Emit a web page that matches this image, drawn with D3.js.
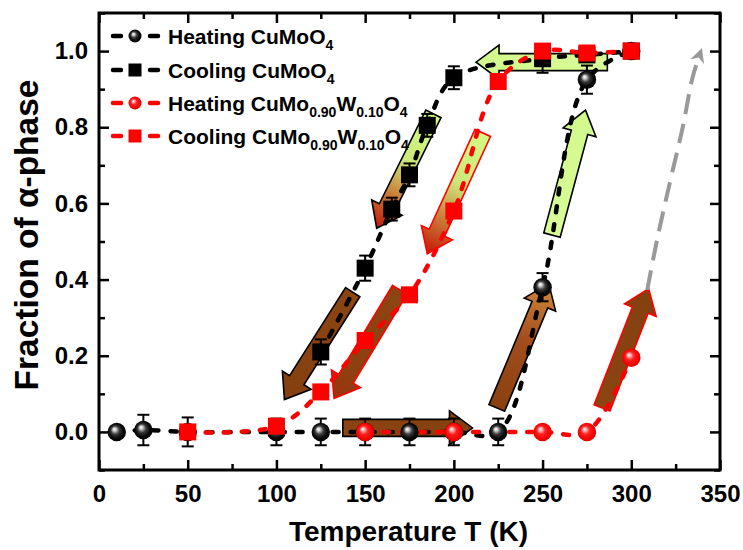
<!DOCTYPE html>
<html>
<head>
<meta charset="utf-8">
<script src="https://cdn.jsdelivr.net/npm/d3@7"></script>
<style>
  body { margin: 0; background: #fff; }
  text { font-family: "Liberation Sans", Arial, sans-serif; font-weight: bold; }
</style>
</head>
<body>
<svg id="chart" width="743" height="550"></svg>
<script>
// --- data ---
const heatMoT   = [10, 25, 50, 100, 125, 150, 175, 200, 225, 250, 275, 300];
const heatMoF   = [0, 0.005, 0, 0, 0, 0, 0, 0, 0, 0.38, 0.925, 1.0];
const heatMoErr = [0, 0.04, 0.038, 0.035, 0.035, 0.035, 0.035, 0.035, 0.035, 0.037, 0.037, 0];

const coolMoT   = [125, 150, 165, 175, 185, 200, 250, 275, 300];
const coolMoF   = [0.21, 0.43, 0.585, 0.675, 0.805, 0.93, 0.98, 0.99, 1.0];
const coolMoErr = [0.033, 0.033, 0.03, 0.03, 0.03, 0.03, 0.037, 0, 0];

const heatWT = [150, 200, 250, 275, 300];
const heatWF = [0, 0, 0, 0, 0.195];

const coolWT = [50, 100, 125, 150, 175, 200, 225, 250, 275, 300];
const coolWF = [0, 0.015, 0.105, 0.24, 0.36, 0.58, 0.92, 1.0, 0.995, 1.0];

// extrapolation guide (grey dashed) in data units
const guideT = [309, 314.5, 322, 329, 334.5, 338.5];
const guideF = [0.373, 0.504, 0.66, 0.8, 0.93, 0.99];

// block arrows: [T start, F start, T tip, F tip]
const arrowEnds = [
  [137.4, 0.0105, 210.5, 0.0105],   // heating CuMoO4, flat part
  [224.2, 0.063, 253.5, 0.39],      // heating CuMoO4, rise
  [255.3, 0.517, 274.2, 0.845],     // heating CuMoO4, top of rise
  [286.5, 0.971, 212.5, 0.971],     // cooling, flat top
  [188.5, 0.835, 156.5, 0.535],     // cooling CuMoO4, upper
  [143.0, 0.367, 104.5, 0.085],     // cooling CuMoO4, lower
  [216.3, 0.785, 185.0, 0.468],     // cooling W, upper
  [169.5, 0.373, 132.5, 0.088],     // cooling W, lower
  [283.5, 0.063, 309.8, 0.376]      // heating W
];
const arrowFill   = ["brown", "brownOrange", "green", "green", "greenRed", "brown", "greenRed", "brownRed", "brown"];
const arrowStroke = ["#000", "#000", "#000", "#000", "#000", "#000", "#f00", "#f00", "#f00"];

const xTicks = [0, 50, 100, 150, 200, 250, 300, 350];
const xMinor = [25, 75, 125, 175, 225, 275, 325];
const yTicks = [0, 0.2, 0.4, 0.6, 0.8, 1.0];
const yMinor = [-0.1, 0.1, 0.3, 0.5, 0.7, 0.9, 1.1];

// --- layout ---
const plotLeft = 99, plotRight = 720, plotTop = 13, plotBottom = 470;
const svg = d3.select("#chart");

const x = d3.scaleLinear().domain([0, 350]).range([plotLeft, plotRight]);
const y = d3.scaleLinear().domain([-0.1, 1.1]).range([plotBottom, plotTop]);

const defs = svg.append("defs");

// sphere gradients
function sphereGrad(id, stops) {
  const g = defs.append("radialGradient").attr("id", id)
    .attr("cx", "50%").attr("cy", "50%").attr("r", "55%")
    .attr("fx", "36%").attr("fy", "34%");
  stops.forEach(s => g.append("stop").attr("offset", s[0]).attr("stop-color", s[1]));
}
sphereGrad("ballBlack", [[0, "#ffffff"], [0.14, "#d8d8d8"], [0.42, "#3a3a3a"], [0.7, "#0a0a0a"], [1, "#000"]]);
sphereGrad("ballRed", [[0, "#ffffff"], [0.15, "#ffb8b8"], [0.42, "#ff2020"], [0.8, "#f00000"], [1, "#e00000"]]);

const arrowStops = {
  brown:       [[0, "#8a4512"], [1, "#854010"]],
  brownOrange: [[0, "#8a4010"], [0.55, "#a24d1c"], [1, "#d38a3a"]],
  green:       [[0, "#d8fb98"], [1, "#d2f98c"]],
  greenRed:    [[0, "#d2fb84"], [0.42, "#cde77a"], [0.7, "#c8823a"], [1, "#c41808"]],
  brownRed:    [[0, "#8c4512"], [0.7, "#8e4010"], [1, "#9c3410"]]
};

// --- block arrows (under the data) ---
const bodyHalf = 8.5, headHalf = 17, headLen = 23;
const arrowG = svg.append("g");
arrowEnds.forEach((a, i) => {
  const sx = x(a[0]), sy = y(a[1]), ex = x(a[2]), ey = y(a[3]);
  const len = Math.hypot(ex - sx, ey - sy);
  const ux = (ex - sx) / len, uy = (ey - sy) / len;
  const nx = -uy, ny = ux;
  const bx = ex - ux * headLen, by = ey - uy * headLen;
  const pts = [
    [sx + nx * bodyHalf, sy + ny * bodyHalf],
    [bx + nx * bodyHalf, by + ny * bodyHalf],
    [bx + nx * headHalf, by + ny * headHalf],
    [ex, ey],
    [bx - nx * headHalf, by - ny * headHalf],
    [bx - nx * bodyHalf, by - ny * bodyHalf],
    [sx - nx * bodyHalf, sy - ny * bodyHalf]
  ];
  const gid = "arrowGrad" + i;
  const lg = defs.append("linearGradient").attr("id", gid)
    .attr("gradientUnits", "userSpaceOnUse")
    .attr("x1", sx).attr("y1", sy).attr("x2", ex).attr("y2", ey);
  arrowStops[arrowFill[i]].forEach(s => lg.append("stop").attr("offset", s[0]).attr("stop-color", s[1]));
  arrowG.append("polygon")
    .attr("points", pts.map(p => p.join(",")).join(" "))
    .attr("fill", `url(#${gid})`)
    .attr("stroke", arrowStroke[i])
    .attr("stroke-width", 1.6)
    .attr("stroke-linejoin", "miter");
});

// grey dashed guide with arrow head
defs.append("marker").attr("id", "greyHead")
  .attr("viewBox", "0 0 10 10").attr("refX", 5).attr("refY", 5)
  .attr("markerWidth", 3.6).attr("markerHeight", 3.6)
  .attr("orient", "auto")
  .append("path").attr("d", "M0,0 L10,5 L0,10 L3,5 Z").attr("fill", "#999");

const guideLine = d3.line().x(d => x(d[0])).y(d => y(d[1])).curve(d3.curveCatmullRom.alpha(0.5));
svg.append("path")
  .attr("d", guideLine(guideT.map((t, i) => [t, guideF[i]])))
  .attr("fill", "none")
  .attr("stroke", "#999")
  .attr("stroke-width", 4)
  .attr("stroke-dasharray", "20,10")
  .attr("marker-end", "url(#greyHead)");

// --- series ---
const series = [
  { T: heatMoT, F: heatMoF, err: heatMoErr, color: "#000", shape: "ball", grad: "ballBlack" },
  { T: coolMoT, F: coolMoF, err: coolMoErr, color: "#000", shape: "square" },
  { T: heatWT,  F: heatWF,  err: null,      color: "#f00", shape: "ball", grad: "ballRed" },
  { T: coolWT,  F: coolWF,  err: null,      color: "#f00", shape: "square" }
];

const line = d3.line().x(d => x(d[0])).y(d => y(d[1])).curve(d3.curveCatmullRom.alpha(0.5));

series.forEach(s => {
  svg.append("path")
    .attr("d", line(s.T.map((t, i) => [t, s.F[i]])))
    .attr("fill", "none")
    .attr("stroke", s.color)
    .attr("stroke-width", 4.5)
    .attr("stroke-linecap", "round")
    .attr("stroke-dasharray", "6,12");
});

// error bars
series.forEach(s => {
  if (!s.err) return;
  const g = svg.append("g").attr("stroke", "#000").attr("stroke-width", 2);
  s.T.forEach((t, i) => {
    const e = s.err[i];
    if (!e) return;
    const cx = x(t), y1 = y(s.F[i] - e), y2 = y(s.F[i] + e);
    g.append("line").attr("x1", cx).attr("x2", cx).attr("y1", y1).attr("y2", y2);
    g.append("line").attr("x1", cx - 6).attr("x2", cx + 6).attr("y1", y1).attr("y2", y1);
    g.append("line").attr("x1", cx - 6).attr("x2", cx + 6).attr("y1", y2).attr("y2", y2);
  });
});

// markers
function drawMarker(g, s, cx, cy, size) {
  if (s.shape === "ball") {
    g.append("circle").attr("cx", cx).attr("cy", cy).attr("r", size / 2)
      .attr("fill", `url(#${s.grad})`);
  } else {
    g.append("rect").attr("x", cx - size / 2).attr("y", cy - size / 2)
      .attr("width", size).attr("height", size).attr("fill", s.color);
  }
}
series.forEach(s => {
  const g = svg.append("g");
  s.T.forEach((t, i) => drawMarker(g, s, x(t), y(s.F[i]), s.shape === "ball" ? 18.5 : 17));
});

// --- axes & frame ---
function styleAxis(g) {
  g.select(".domain").remove();
  g.selectAll(".tick line").attr("stroke", "#000").attr("stroke-width", 2.5);
  g.selectAll("text").attr("fill", "#000")
    .style("font-family", '"Liberation Sans", Arial, sans-serif')
    .style("font-weight", "bold").style("font-size", "24px");
}

svg.append("g").attr("transform", `translate(0,${plotBottom})`)
  .call(d3.axisBottom(x).tickValues(xTicks).tickSizeInner(-10).tickSizeOuter(0).tickPadding(15))
  .call(styleAxis);
svg.append("g").attr("transform", `translate(0,${plotBottom})`)
  .call(d3.axisBottom(x).tickValues(xMinor).tickSizeInner(-6).tickSizeOuter(0).tickFormat(""))
  .call(styleAxis);
svg.append("g").attr("transform", `translate(0,${plotTop})`)
  .call(d3.axisTop(x).tickValues(xTicks).tickSizeInner(-10).tickSizeOuter(0).tickFormat(""))
  .call(styleAxis);
svg.append("g").attr("transform", `translate(0,${plotTop})`)
  .call(d3.axisTop(x).tickValues(xMinor).tickSizeInner(-6).tickSizeOuter(0).tickFormat(""))
  .call(styleAxis);

svg.append("g").attr("transform", `translate(${plotLeft},0)`)
  .call(d3.axisLeft(y).tickValues(yTicks).tickSizeInner(-10).tickSizeOuter(0).tickPadding(11).tickFormat(d3.format(".1f")))
  .call(styleAxis);
svg.append("g").attr("transform", `translate(${plotLeft},0)`)
  .call(d3.axisLeft(y).tickValues(yMinor).tickSizeInner(-6).tickSizeOuter(0).tickFormat(""))
  .call(styleAxis);
svg.append("g").attr("transform", `translate(${plotRight},0)`)
  .call(d3.axisRight(y).tickValues(yTicks).tickSizeInner(-10).tickSizeOuter(0).tickFormat(""))
  .call(styleAxis);
svg.append("g").attr("transform", `translate(${plotRight},0)`)
  .call(d3.axisRight(y).tickValues(yMinor).tickSizeInner(-6).tickSizeOuter(0).tickFormat(""))
  .call(styleAxis);

svg.append("rect")
  .attr("x", plotLeft).attr("y", plotTop)
  .attr("width", plotRight - plotLeft).attr("height", plotBottom - plotTop)
  .attr("fill", "none").attr("stroke", "#000").attr("stroke-width", 3);

// axis titles
svg.append("text")
  .attr("x", (plotLeft + plotRight) / 2 - 1).attr("y", 541)
  .attr("text-anchor", "middle")
  .style("font-size", "28px")
  .text("Temperature T (K)");

svg.append("text")
  .attr("transform", "rotate(-90)")
  .attr("x", -235).attr("y", 38)
  .attr("text-anchor", "middle")
  .style("font-size", "33.5px")
  .text("Fraction of α-phase");

// --- legend ---
const legendRows = [
  [{ t: "Heating CuMoO" }, { t: "4", sub: true }],
  [{ t: "Cooling CuMoO" }, { t: "4", sub: true }],
  [{ t: "Heating CuMo" }, { t: "0.90", sub: true }, { t: "W" }, { t: "0.10", sub: true }, { t: "O" }, { t: "4", sub: true }],
  [{ t: "Cooling CuMo" }, { t: "0.90", sub: true }, { t: "W" }, { t: "0.10", sub: true }, { t: "O" }, { t: "4", sub: true }]
];
const legendY = [36, 70, 103, 136];

legendRows.forEach((parts, i) => {
  const s = series[i];
  const g = svg.append("g").attr("transform", `translate(0,${legendY[i]})`);
  g.append("line").attr("x1", 113).attr("x2", 121).attr("y1", 0).attr("y2", 0)
    .attr("stroke", s.color).attr("stroke-width", 4.5).attr("stroke-linecap", "round");
  g.append("line").attr("x1", 150).attr("x2", 158).attr("y1", 0).attr("y2", 0)
    .attr("stroke", s.color).attr("stroke-width", 4.5).attr("stroke-linecap", "round");
  drawMarker(g, s, 135, 0, 13);
  const txt = g.append("text").attr("x", 168).attr("y", 7.5).style("font-size", "21px").attr("fill", "#000");
  parts.forEach(p => {
    const ts = txt.append("tspan").text(p.t);
    if (p.sub) ts.style("font-size", "14px").attr("dy", 6);
    else if (txt.selectAll("tspan").size() > 1) ts.attr("dy", -6);
  });
});
</script>
</body>
</html>
